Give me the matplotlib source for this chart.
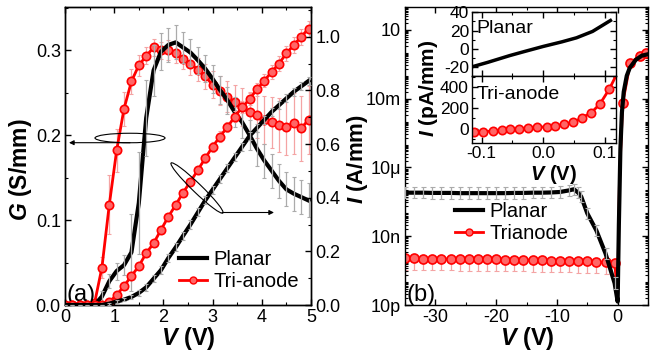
import numpy as np
import matplotlib
matplotlib.use('Agg')
import matplotlib.pyplot as plt
from matplotlib.patches import Ellipse
from matplotlib.lines import Line2D
from matplotlib.ticker import (MultipleLocator, LogLocator, FixedLocator,
                               FixedFormatter, NullFormatter)

plt.rcParams['font.family'] = ['Liberation Sans', 'DejaVu Sans']
plt.rcParams['mathtext.fontset'] = 'custom'
plt.rcParams['mathtext.it'] = 'Liberation Sans:italic:bold'
plt.rcParams['mathtext.rm'] = 'Liberation Sans:bold'
plt.rcParams['mathtext.bf'] = 'Liberation Sans:bold'
plt.rcParams['axes.unicode_minus'] = False
plt.rcParams['axes.linewidth'] = 1.0

# ---------------- panel (a): G and I vs V, one point every 0.15 V
va = np.round(np.arange(0, 5.0, 0.15), 2)

g_tri = [0, 0, 0, 0, 0.002, 0.044, 0.118, 0.182, 0.231, 0.263,
         0.282, 0.293, 0.303, 0.300, 0.300, 0.297, 0.290, 0.284, 0.277, 0.269,
         0.259, 0.252, 0.245, 0.239, 0.233, 0.227, 0.223, 0.218, 0.215, 0.212,
         0.210, 0.214, 0.208, 0.218]
g_tri_err = [0.002, 0.002, 0.002, 0.002, 0.003, 0.012, 0.035, 0.025, 0.020, 0.015,
             0.012, 0.010, 0.010, 0.010, 0.012, 0.012, 0.012, 0.013, 0.014, 0.015,
             0.016, 0.017, 0.018, 0.020, 0.022, 0.024, 0.026, 0.028, 0.030, 0.032,
             0.034, 0.036, 0.038, 0.040]
g_pla = [0, 0, 0, 0, 0.0, 0.010, 0.028, 0.040, 0.047, 0.062,
         0.120, 0.220, 0.276, 0.298, 0.306, 0.309, 0.303, 0.297, 0.288, 0.278,
         0.266, 0.253, 0.241, 0.227, 0.215, 0.200, 0.184, 0.170, 0.158, 0.146,
         0.136, 0.131, 0.127, 0.123]
g_pla_err = [0, 0, 0, 0, 0.003, 0.006, 0.008, 0.010, 0.012, 0.045,
             0.060, 0.045, 0.030, 0.022, 0.020, 0.020, 0.018, 0.016, 0.016, 0.016,
             0.016, 0.016, 0.016, 0.018, 0.018, 0.018, 0.020, 0.020, 0.020, 0.020,
             0.020, 0.020, 0.020, 0.020]
i_tri = [0, 0, 0, 0, 0, 0, 0.012, 0.037, 0.071, 0.108,
         0.145, 0.193, 0.230, 0.280, 0.329, 0.373, 0.419, 0.460, 0.503, 0.547,
         0.590, 0.628, 0.663, 0.702, 0.737, 0.767, 0.804, 0.836, 0.869, 0.900,
         0.938, 0.969, 1.000, 1.030]
i_tri_err = [0, 0, 0, 0, 0, 0, 0.004, 0.005, 0.006, 0.007,
             0.008, 0.009, 0.010, 0.011, 0.012, 0.013, 0.014, 0.015, 0.016, 0.017,
             0.018, 0.019, 0.020, 0.021, 0.022, 0.023, 0.024, 0.025, 0.026, 0.027,
             0.028, 0.029, 0.030, 0.030]
i_pla = [0, 0, 0, 0, 0, 0, 0.005, 0.013, 0.020, 0.030,
         0.045, 0.066, 0.098, 0.130, 0.175, 0.215, 0.258, 0.300, 0.345, 0.390,
         0.430, 0.470, 0.510, 0.550, 0.590, 0.630, 0.660, 0.690, 0.720, 0.745,
         0.770, 0.795, 0.815, 0.835]
i_pla_err = [0, 0, 0, 0, 0, 0, 0.004, 0.004, 0.006, 0.008,
             0.010, 0.012, 0.014, 0.015, 0.015, 0.015, 0.015, 0.015, 0.015, 0.015,
             0.015, 0.015, 0.015, 0.015, 0.015, 0.015, 0.015, 0.015, 0.015, 0.015,
             0.015, 0.015, 0.015, 0.015]

# ---------------- panel (b): log |I| vs V
vb_pla = [-35, -33.5, -32, -30.5, -29, -27.5, -26, -24.5, -23, -21.5, -20, -18.5,
          -17, -15.5, -14, -12.5, -11, -9.5, -8, -7.2, -6.5, -6, -5, -3.5, -2, -0.5,
          0, 0.2, 0.45, 0.7, 1.0, 1.5, 2.0, 3.0, 4.0, 5.0]
logi_pla = [-6.10, -6.10, -6.10, -6.11, -6.11, -6.11, -6.12, -6.12, -6.12, -6.12,
            -6.12, -6.12, -6.11, -6.11, -6.10, -6.10, -6.09, -6.07, -6.00, -5.95,
            -6.10, -6.27, -7.00, -7.75, -8.75, -10.05,
            -10.85, -7.5, -4.2, -2.6, -1.7, -1.0, -0.65, -0.30, -0.12, -0.06]
pla_err_dec = 0.25   # half-width of the error bars in decades

vb_tri = [-35, -33.5, -32, -30.5, -29, -27.5, -26, -24.5, -23, -21.5, -20, -18.5,
          -17, -15.5, -14, -12.5, -11, -9.5, -8, -6.5, -5, -3.5, -2, -0.5,
          0, 0.3, 0.83, 2.06, 3.6, 4.6, 5.0]
logi_tri = [-8.97, -8.97, -8.98, -8.98, -8.99, -8.99, -9.00, -9.00, -9.00, -9.01,
            -9.01, -9.02, -9.02, -9.03, -9.04, -9.05, -9.06, -9.07, -9.08, -9.09,
            -9.10, -9.12, -9.14, -9.18,
            -10.5, -5.5, -2.2, -0.45, -0.13, -0.02, 0.0]
tri_marks = list(range(24)) + [26, 27, 28, 29]
tri_err_lo_dec = 0.5
tri_err_hi_dec = 0.1

yb_ticks = [1e-11, 1e-8, 1e-5, 1e-2, 1e1]
yb_labels = ['10p', '10n', '10μ', '10m', '10']

# ---------------- inset: low bias I (pA/mm)
vi_pla = [-0.116, -0.09, -0.054, -0.03, 0.0, 0.03, 0.054, 0.08, 0.109]
ii_pla = [-20, -15, -7.5, -3, 2.5, 7.5, 12, 19, 31]
vi_tri = [-0.112, -0.097, -0.082, -0.067, -0.054, -0.039, -0.024, -0.010, 0.0055,
          0.019, 0.034, 0.049, 0.063, 0.078, 0.092, 0.107, 0.122]
ii_tri = [-34, -28, -21, -12, -5, 1, 8, 14, 20, 27, 43, 63, 107, 156, 240, 382, 560]

RED = '#ff0000'
MFC = '#ff6666'
PINK = '#f4a4a4'
GREY = '#ababab'

fig = plt.figure(figsize=(6.62, 3.54), dpi=100)

def style(ax, labelsize=13, pad=3):
    ax.tick_params(which='both', direction='in', labelsize=labelsize, pad=pad)
    ax.tick_params(which='major', length=4, width=1)
    ax.tick_params(which='minor', length=2, width=0.8)

# ---- (a)
ax_a = fig.add_axes([0.0982, 0.1384, 0.3716, 0.8418])
ax_a2 = ax_a.twinx()
ax_a.errorbar(va, g_tri, yerr=g_tri_err, fmt='none', ecolor=PINK, elinewidth=0.9,
              capsize=1.6, capthick=0.8, zorder=1)
ax_a.plot(va, g_tri, '-o', color=RED, lw=2, ms=6, mfc=MFC, mec=RED, mew=1.2, zorder=2)
ax_a.plot(va, g_pla, color='k', lw=3, zorder=3)
ax_a.errorbar(va, g_pla, yerr=g_pla_err, fmt='none', ecolor=GREY, elinewidth=0.9,
              capsize=1.6, capthick=0.8, zorder=4)

ax_a2.errorbar(va, i_tri, yerr=i_tri_err, fmt='none', ecolor=PINK, elinewidth=0.9,
               capsize=1.6, capthick=0.8, zorder=1)
ax_a2.plot(va, i_tri, '-o', color=RED, lw=2, ms=6, mfc=MFC, mec=RED, mew=1.2, zorder=2)
ax_a2.plot(va, i_pla, color='k', lw=3, zorder=3)
ax_a2.errorbar(va, i_pla, yerr=i_pla_err, fmt='none', ecolor=GREY, elinewidth=0.9,
               capsize=1.6, capthick=0.8, zorder=4)

ax_a.set_xlim(0, 5)
ax_a.set_ylim(0, 0.3506)
ax_a2.set_ylim(0, 1.1107)
ax_a.xaxis.set_major_locator(MultipleLocator(1))
ax_a.xaxis.set_minor_locator(MultipleLocator(0.5))
ax_a.yaxis.set_major_locator(MultipleLocator(0.1))
ax_a.yaxis.set_minor_locator(MultipleLocator(0.05))
ax_a2.yaxis.set_major_locator(MultipleLocator(0.2))
ax_a2.yaxis.set_minor_locator(MultipleLocator(0.1))
style(ax_a)
style(ax_a2)
ax_a.tick_params(which='both', top=True, right=False)
ax_a2.tick_params(which='both', left=False)
ax_a.text(0.005, -0.004, '(a)', transform=ax_a.transAxes, fontsize=17,
          ha='left', va='bottom', zorder=6)

h_pla = Line2D([], [], color='k', lw=3)
h_tri = Line2D([], [], color=RED, lw=2, marker='o', ms=5, mfc=MFC, mec=RED, mew=1)
ax_a2.legend([h_pla, h_tri], ['Planar', 'Tri-anode'], loc='upper left',
             bbox_to_anchor=(0.463, 0.185), frameon=False, fontsize=14.5,
             handlelength=1.4, handletextpad=0.3, labelspacing=0.15,
             borderpad=0, borderaxespad=0)

# ---- (b)
ax_b = fig.add_axes([0.6118, 0.1384, 0.3671, 0.8418])
ip = 10 ** np.array(logi_pla)
it = 10 ** np.array(logi_tri)
vbp = np.array(vb_pla)
vbt = np.array(vb_tri)
neg_p = vbp < 0
neg_t = vbt < 0
ax_b.errorbar(vbt[neg_t], it[neg_t],
              yerr=[it[neg_t] * (1 - 10 ** -tri_err_lo_dec), it[neg_t] * (10 ** tri_err_hi_dec - 1)],
              fmt='none', ecolor=PINK, elinewidth=0.9, capsize=1.8, capthick=0.8, zorder=1)
ax_b.plot(vbt, it, '-o', color=RED, lw=2, ms=6.5, mfc=MFC, mec=RED, mew=1.2,
          markevery=tri_marks, zorder=2)
ax_b.plot(vbp, ip, color='k', lw=3, zorder=3)
ax_b.errorbar(vbp[neg_p], ip[neg_p],
              yerr=[ip[neg_p] * (1 - 10 ** -pla_err_dec), ip[neg_p] * (10 ** pla_err_dec - 1)],
              fmt='none', ecolor=GREY, elinewidth=0.9, capsize=1.8, capthick=0.8, zorder=4)
ax_b.set_yscale('log')
ax_b.set_xlim(-35, 5)
ax_b.set_ylim(1e-11, 1e2)
ax_b.xaxis.set_major_locator(MultipleLocator(10))
ax_b.xaxis.set_minor_locator(MultipleLocator(5))
ax_b.yaxis.set_major_locator(FixedLocator(yb_ticks))
ax_b.yaxis.set_major_formatter(FixedFormatter(yb_labels))
ax_b.yaxis.set_minor_locator(LogLocator(base=10, subs=np.arange(1, 10), numticks=200))
ax_b.yaxis.set_minor_formatter(NullFormatter())
style(ax_b)
ax_b.tick_params(which='both', top=True, right=True)
ax_b.text(0.005, -0.004, '(b)', transform=ax_b.transAxes, fontsize=17,
          ha='left', va='bottom', zorder=6)
ax_b.legend([h_pla, h_tri], ['Planar', 'Trianode'], loc='upper left',
            bbox_to_anchor=(0.206, 0.345), frameon=False, fontsize=14.5,
            handlelength=1.4, handletextpad=0.3, labelspacing=0.15,
            borderpad=0, borderaxespad=0)

# ---- inset
ax_t = fig.add_axes([0.7125, 0.7853, 0.218, 0.1799], zorder=5)
ax_s = fig.add_axes([0.7125, 0.5952, 0.218, 0.1901], zorder=5, sharex=ax_t)
ax_t.plot(vi_pla, ii_pla, color='k', lw=2.5)
ax_s.plot(vi_tri, ii_tri, '-o', color=RED, lw=2, ms=6, mfc=MFC, mec=RED, mew=1.2,
          markevery=slice(0, 16))
ax_t.set_xlim(-0.116, 0.118)
ax_t.set_ylim(-30, 40)
ax_s.set_ylim(-140, 510)
ax_t.xaxis.set_major_locator(MultipleLocator(0.1))
ax_t.xaxis.set_minor_locator(MultipleLocator(0.05))
ax_t.yaxis.set_major_locator(MultipleLocator(20))
ax_t.yaxis.set_minor_locator(MultipleLocator(10))
ax_s.yaxis.set_major_locator(MultipleLocator(200))
ax_s.yaxis.set_minor_locator(MultipleLocator(100))
for ax in (ax_t, ax_s):
    style(ax, 12.5, pad=2)
    ax.tick_params(which='both', top=True, right=True)
ax_t.tick_params(labelbottom=False)
ax_t.text(0.035, 0.75, 'Planar', transform=ax_t.transAxes, fontsize=14,
          ha='left', va='center')
ax_s.text(0.035, 0.72, 'Tri-anode', transform=ax_s.transAxes, fontsize=14,
          ha='left', va='center')

# ---- axis titles
W, H = 662.0, 354.0
def ftext(x, y, s, size=17, rot=0):
    fig.text(x / W, 1 - y / H, s, fontsize=size, fontweight='bold', rotation=rot,
             ha='center', va='center')

ftext(21, 170, r'$G$ (S/mm)', size=16.5, rot=90)
ftext(357, 159, r'$I$ (A/mm)', size=16, rot=90)
ftext(188, 338, r'$V$ (V)')
ftext(527, 339, r'$V$ (V)')
ftext(429, 88, r'$I$ (pA/mm)', size=15, rot=90)
ftext(553, 175, r'$V$ (V)', size=14.5)

# ---- ellipses and arrows marking which curves go with which axis
ov = fig.add_axes([0, 0, 1, 1], zorder=10)
ov.set_xlim(0, W)
ov.set_ylim(H, 0)
ov.axis('off')
ov.patch.set_alpha(0)
ov.add_patch(Ellipse((130, 138), 70, 9.5, fill=False, lw=0.8, color='k'))
ov.annotate('', xy=(69, 142.7), xytext=(130, 142.7),
            arrowprops=dict(arrowstyle='-|>', lw=0.8, color='k', mutation_scale=7,
                            shrinkA=0, shrinkB=0))
ov.add_patch(Ellipse((197, 188), 72, 9, angle=44, fill=False, lw=0.8, color='k'))
ov.annotate('', xy=(274, 212.5), xytext=(222, 212.5),
            arrowprops=dict(arrowstyle='-|>', lw=0.8, color='k', mutation_scale=7,
                            shrinkA=0, shrinkB=0))

fig.savefig('out.png', dpi=100)
